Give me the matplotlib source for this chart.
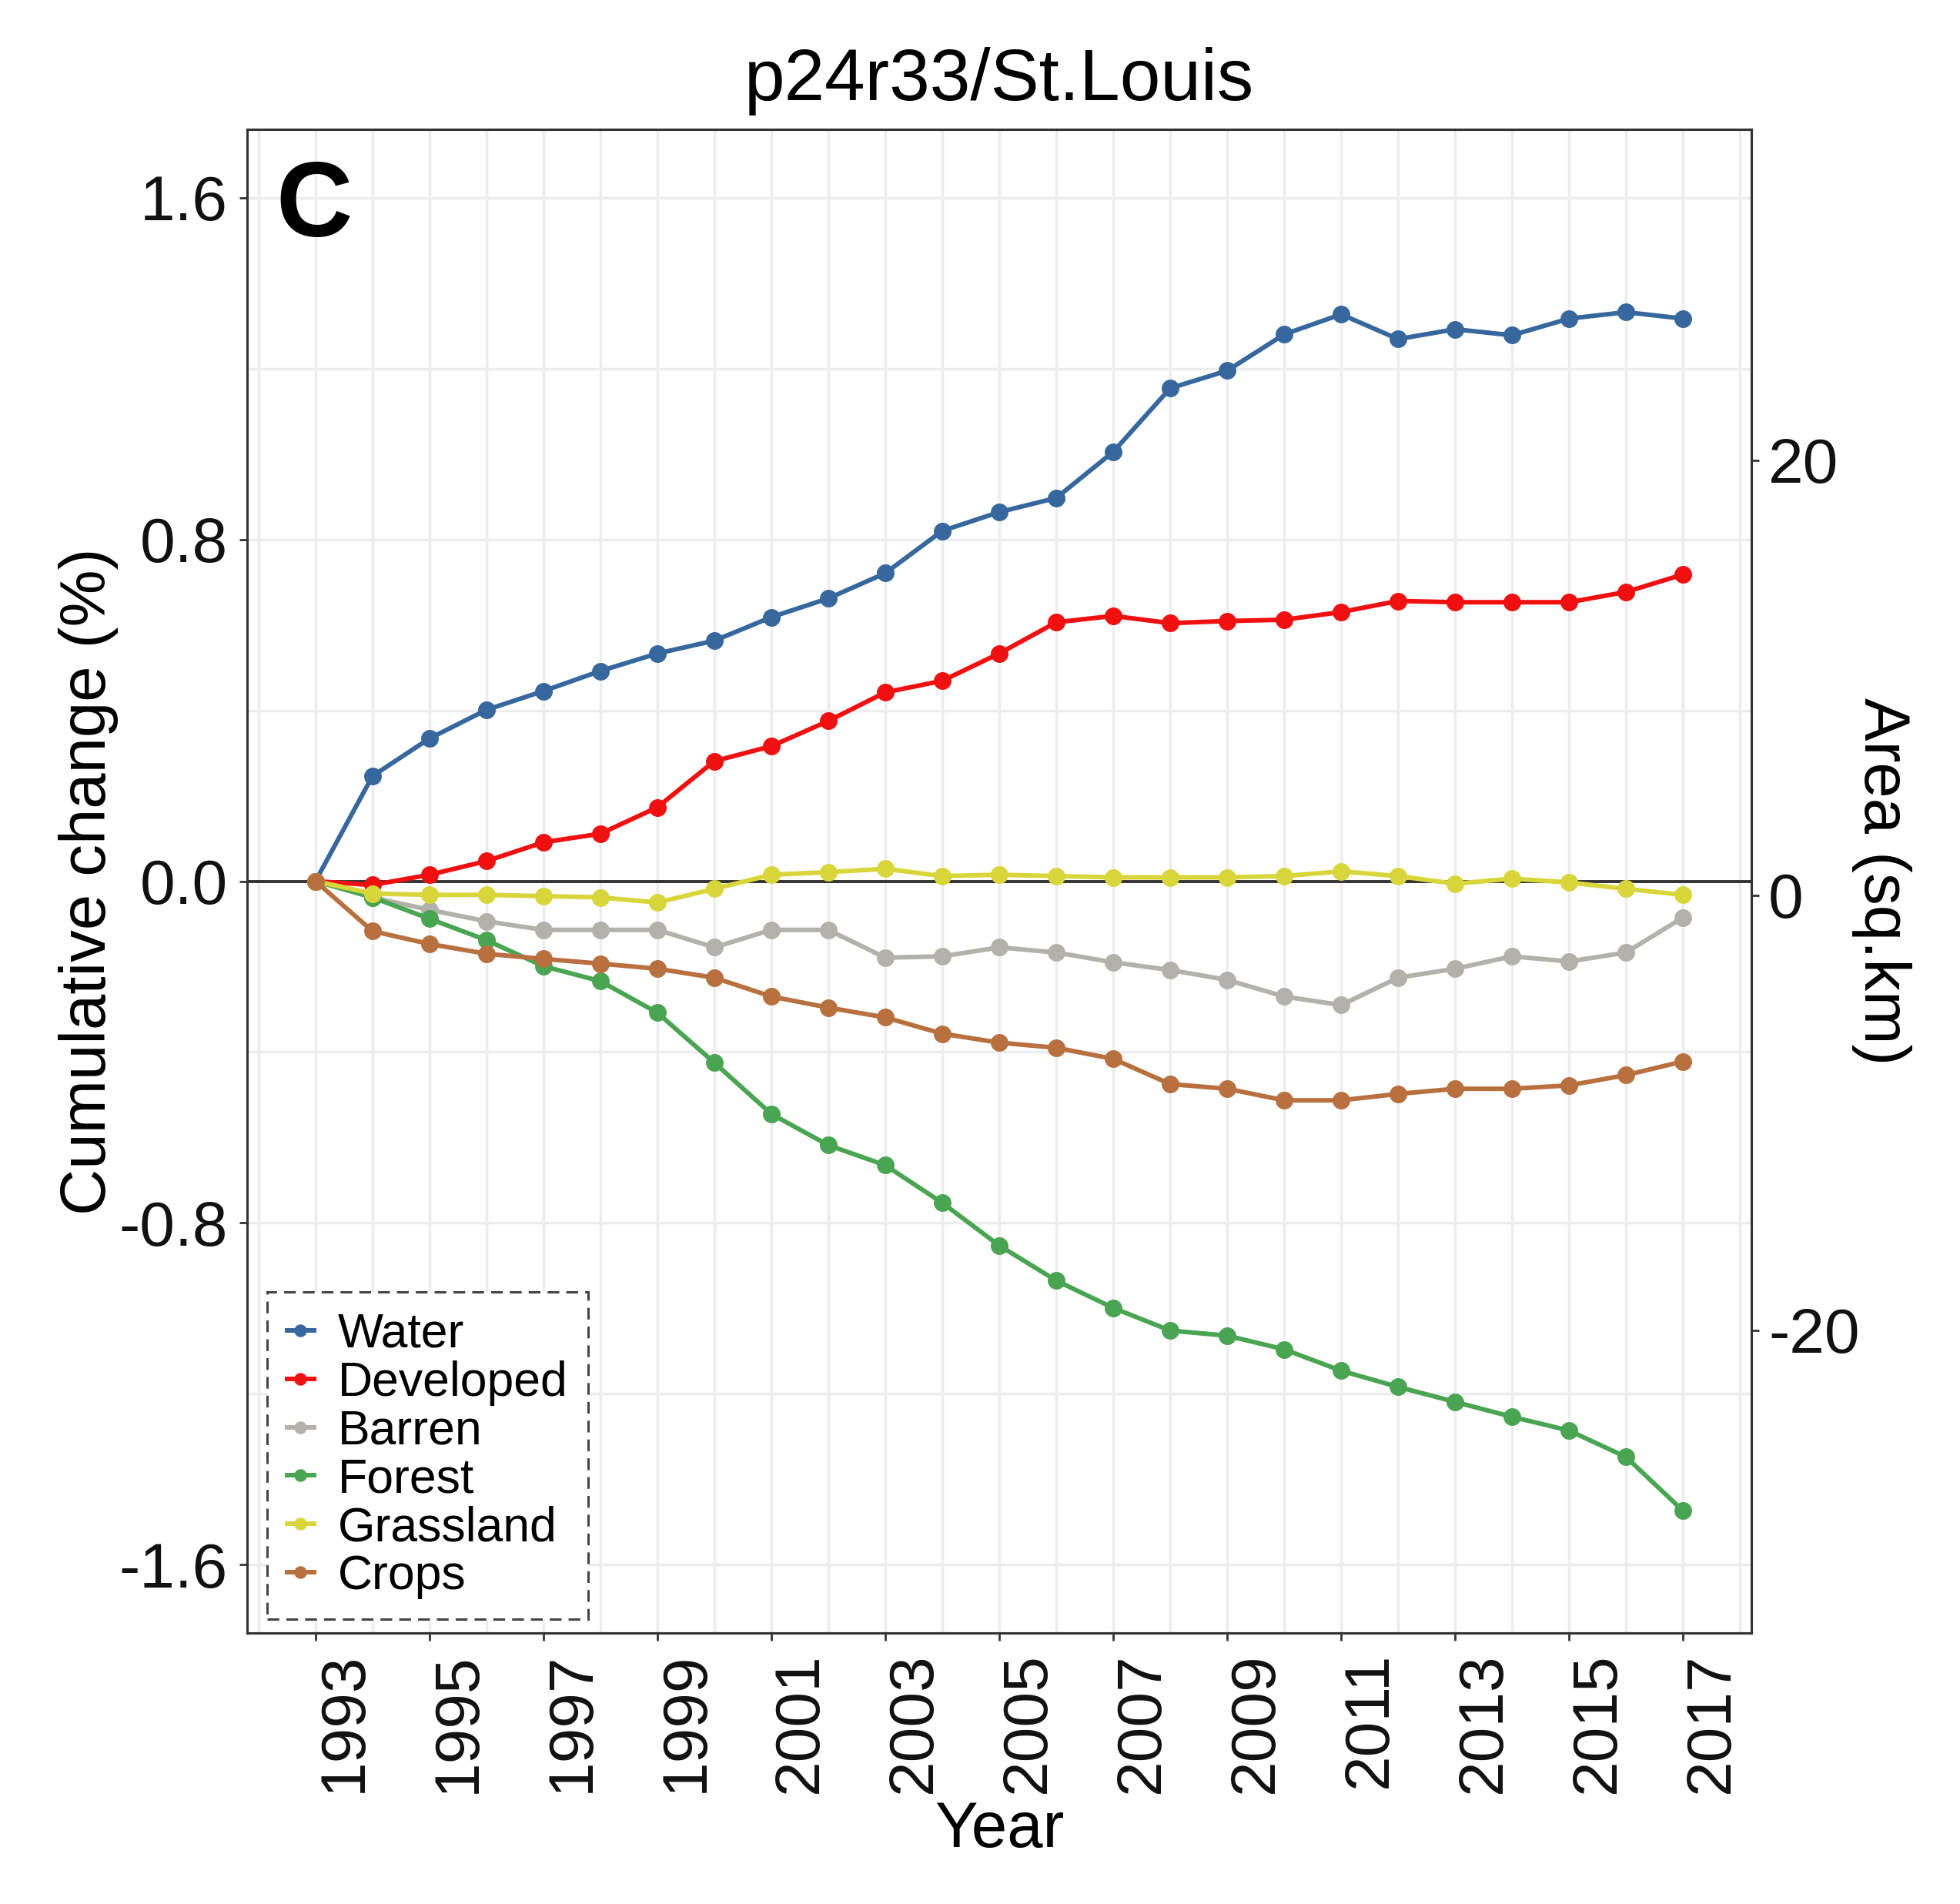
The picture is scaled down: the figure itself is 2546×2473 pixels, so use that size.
import matplotlib
matplotlib.use("Agg")
import matplotlib.pyplot as plt
import numpy as np

plt.rcParams['font.family'] = ['Liberation Sans', 'DejaVu Sans']
plt.rcParams['axes.unicode_minus'] = False

# data (cumulative change in %)
years = list(range(1993, 2018))

water = [0.000, 0.246, 0.334, 0.401, 0.445, 0.492, 0.533, 0.563, 0.618, 0.662,
         0.721, 0.820, 0.864, 0.897, 1.005, 1.154, 1.195, 1.280, 1.327, 1.269,
         1.292, 1.278, 1.317, 1.332, 1.317]
developed = [0.000, -0.009, 0.015, 0.047, 0.091, 0.111, 0.173, 0.281, 0.316, 0.375,
             0.442, 0.469, 0.533, 0.606, 0.621, 0.604, 0.609, 0.612, 0.630, 0.656,
             0.653, 0.653, 0.653, 0.677, 0.718]
barren = [0.000, -0.038, -0.067, -0.094, -0.114, -0.114, -0.114, -0.155, -0.114, -0.114,
          -0.179, -0.176, -0.155, -0.167, -0.190, -0.208, -0.231, -0.270, -0.290, -0.226,
          -0.205, -0.176, -0.188, -0.167, -0.085]
forest = [0.000, -0.038, -0.088, -0.138, -0.199, -0.234, -0.308, -0.425, -0.545, -0.618,
          -0.665, -0.753, -0.853, -0.935, -0.999, -1.052, -1.064, -1.096, -1.146, -1.184,
          -1.219, -1.254, -1.286, -1.348, -1.474]
grassland = [0.000, -0.029, -0.032, -0.032, -0.035, -0.038, -0.050, -0.018, 0.015, 0.021,
             0.029, 0.012, 0.015, 0.012, 0.009, 0.009, 0.009, 0.012, 0.023, 0.012,
             -0.006, 0.006, -0.003, -0.018, -0.032]
crops = [0.000, -0.117, -0.147, -0.170, -0.182, -0.193, -0.205, -0.226, -0.270, -0.296,
         -0.319, -0.357, -0.378, -0.390, -0.416, -0.475, -0.486, -0.513, -0.513, -0.498,
         -0.486, -0.486, -0.478, -0.454, -0.422]

names = ['Water', 'Developed', 'Barren', 'Forest', 'Grassland', 'Crops']
colors = ['#36689e', '#f01010', '#b3b1ab', '#4aa552', '#d9d63c', '#b8703f']
series = [water, developed, barren, forest, grassland, crops]

# secondary axis: area (sq.km) = (pct + offset) * scale
area_scale = 19.64
area_offset = 0.0325

W, H = 2546, 2473
fig = plt.figure(figsize=(W / 100, H / 100), dpi=100)
left, right, top, bottom = 321, 2275, 168, 2121
ax = fig.add_axes([left / W, 1 - bottom / H, (right - left) / W, (bottom - top) / H])

ax.axhline(0, color='#333333', lw=2.8, zorder=2)
for name, vals, c in zip(names, series, colors):
    ax.plot(years, vals, color=c, lw=4.3, marker='o', ms=15.5, label=name, zorder=3)

ax.set_xlim(1991.8, 2018.2)
ax.set_ylim(-1.76, 1.76)
ax.set_xticks(range(1993, 2018, 2))
ax.set_xticks(range(1992, 2019), minor=True)
ax.set_xticklabels([str(y) for y in range(1993, 2018, 2)], rotation=90, ha='left')
ax.set_yticks([-1.6, -0.8, 0.0, 0.8, 1.6])
ax.set_yticks([-1.2, -0.4, 0.4, 1.2], minor=True)
ax.set_yticklabels(['-1.6', '-0.8', '0.0', '0.8', '1.6'])
ax.grid(True, which='both', color='#ededed', lw=2.5)
ax.set_axisbelow(True)
ax.tick_params(which='major', length=7, width=2, color='#333333', pad=11,
               labelsize=59, labelcolor='#111111')
ax.tick_params(which='minor', length=0)
for s in ax.spines.values():
    s.set_color('#333333')
    s.set_linewidth(2.2)

ax.set_xlabel('Year', fontsize=60)
ax.xaxis.set_label_coords(0.5, -0.1111)
ax.set_ylabel('Cumulative change (%)', fontsize=60)
ax.yaxis.set_label_coords(-0.0855, 0.5)

ax2 = ax.twinx()
ax2.set_ylim((-1.76 + area_offset) * area_scale, (1.76 + area_offset) * area_scale)
ax2.set_yticks([-20, 0, 20])
ax2.tick_params(length=7, width=2, color='#333333', pad=9, labelsize=59, labelcolor='#111111')
for s in ax2.spines.values():
    s.set_color('#333333')
    s.set_linewidth(2.2)
ax2.set_ylabel('Area (sq.km)', fontsize=60, rotation=-90, va='bottom')
ax2.yaxis.set_label_coords(1.0665, 0.5)

ax.text(0.0189, 0.9288, 'C', transform=ax.transAxes, fontsize=99,
        fontweight='bold', ha='left', va='baseline')

fig.text(0.5098, 1 - 130 / H, 'p24r33/St.Louis', fontsize=68, ha='center', va='baseline')

leg = ax.legend(loc='lower left', bbox_to_anchor=(26 / 1954, 18 / 1953), borderaxespad=0,
                fontsize=45, labelspacing=0.06, handlelength=0.55, handletextpad=0.5,
                borderpad=0.42, markerscale=0.7, fancybox=False, edgecolor='#444444',
                framealpha=1)
leg.get_frame().set_linestyle((0, (5, 3)))
leg.get_frame().set_linewidth(2.2)
leg.set_zorder(5)

fig.savefig('out.png', dpi=100, facecolor='white')
